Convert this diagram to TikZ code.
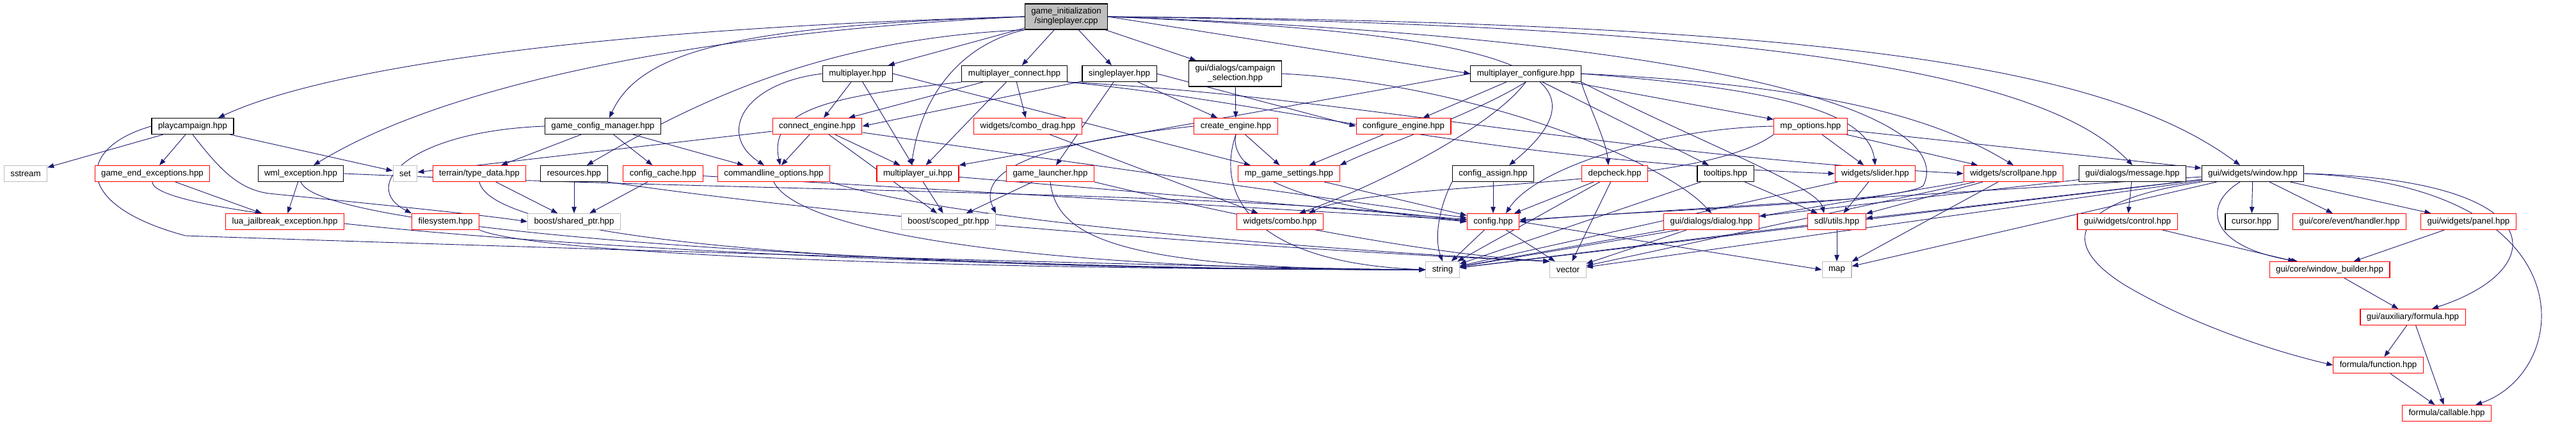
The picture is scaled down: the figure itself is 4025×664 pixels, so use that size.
\documentclass[tikz,border=0pt]{standalone}
\usepackage{fontspec}
\setmainfont{Liberation Sans}
\usetikzlibrary{arrows.meta,backgrounds}
\definecolor{edgeblue}{HTML}{191970}
\definecolor{sysgray}{HTML}{BFBFBF}
\tikzset{
  file/.style={draw=black, fill=white, line width=1.1pt, minimum height=25pt, inner xsep=10pt, inner ysep=0pt,
    font=\fontsize{13.3}{15}\selectfont, align=center},
  redfile/.style={file, draw=red},
  sysfile/.style={file, draw=sysgray},
  rootfile/.style={file, fill=sysgray, minimum height=40pt},
  dep/.style={draw=edgeblue, line width=0.9pt, -{Triangle[length=10pt,width=7.5pt]}}
}
\begin{document}
\begin{tikzpicture}[x=1pt, y=-1pt]
\useasboundingbox (0,0) rectangle (4025,664);
\node[rootfile] (root) at (1666,26) {game\_initialization\\/singleplayer.cpp};
\node[file] (mp) at (1340,115) {multiplayer.hpp};
\node[file] (mpconn) at (1585,115) {multiplayer\_connect.hpp};
\node[file] (sp) at (1749,115) {singleplayer.hpp};
\node[file, minimum height=40pt] (campsel) at (1930,115) {gui/dialogs/campaign\\\_selection.hpp};
\node[file] (mpconf) at (2384,115) {multiplayer\_configure.hpp};
\node[file] (playc) at (301,197) {playcampaign.hpp};
\node[file] (gcm) at (942,197) {game\_config\_manager.hpp};
\node[redfile] (conneng) at (1277,197) {connect\_engine.hpp};
\node[redfile] (combodrag) at (1606,197) {widgets/combo\_drag.hpp};
\node[redfile] (createng) at (1931,197) {create\_engine.hpp};
\node[redfile] (confeng) at (2193,197) {configure\_engine.hpp};
\node[redfile] (mpopt) at (2829,197) {mp\_options.hpp};
\node[sysfile] (sstream) at (40,271) {sstream};
\node[redfile] (gameend) at (238,271) {game\_end\_exceptions.hpp};
\node[file] (wml) at (470,271) {wml\_exception.hpp};
\node[sysfile] (set) at (633,271) {set};
\node[redfile] (terrain) at (749,271) {terrain/type\_data.hpp};
\node[file] (res) at (897,271) {resources.hpp};
\node[redfile] (cfgcache) at (1036,271) {config\_cache.hpp};
\node[redfile] (cmdline) at (1209,271) {commandline\_options.hpp};
\node[redfile] (mpui) at (1434,271) {multiplayer\_ui.hpp};
\node[redfile] (launcher) at (1641,271) {game\_launcher.hpp};
\node[redfile] (mpgs) at (2014,271) {mp\_game\_settings.hpp};
\node[file] (cfgassign) at (2333,271) {config\_assign.hpp};
\node[redfile] (depcheck) at (2523,271) {depcheck.hpp};
\node[file] (tooltips) at (2696,271) {tooltips.hpp};
\node[redfile] (slider) at (2930,271) {widgets/slider.hpp};
\node[redfile] (scroll) at (3146,271) {widgets/scrollpane.hpp};
\node[file] (msg) at (3332,271) {gui/dialogs/message.hpp};
\node[file] (window) at (3520,271) {gui/widgets/window.hpp};
\node[redfile] (lua) at (445,346) {lua\_jailbreak\_exception.hpp};
\node[redfile] (fs) at (696,346) {filesystem.hpp};
\node[sysfile] (shptr) at (897,346) {boost/shared\_ptr.hpp};
\node[sysfile] (scptr) at (1482,346) {boost/scoped\_ptr.hpp};
\node[redfile] (combo) at (2000,346) {widgets/combo.hpp};
\node[redfile] (cfg) at (2333,346) {config.hpp};
\node[redfile] (dialog) at (2674,346) {gui/dialogs/dialog.hpp};
\node[redfile] (sdl) at (2870,346) {sdl/utils.hpp};
\node[redfile] (control) at (3324,346) {gui/widgets/control.hpp};
\node[file] (cursor) at (3518,346) {cursor.hpp};
\node[redfile] (handler) at (3671,346) {gui/core/event/handler.hpp};
\node[redfile] (panel) at (3857,346) {gui/widgets/panel.hpp};
\node[sysfile] (str) at (2254,421) {string};
\node[sysfile] (vec) at (2450,421) {vector};
\node[sysfile] (map) at (2870,421) {map};
\node[redfile] (builder) at (3640,421) {gui/core/window\_builder.hpp};
\node[redfile] (formula) at (3770,495) {gui/auxiliary/formula.hpp};
\node[redfile] (function) at (3716,570) {formula/function.hpp};
\node[redfile] (callable) at (3823,645) {formula/callable.hpp};
\begin{pgfonlayer}{background}
\draw[dep] (root.west) .. controls (900,45) and (500,110) .. ([xshift=40]playc.north);
\draw[dep] (root.west) .. controls (1100,50) and (700,130) .. ([xshift=20]wml.north);
\draw[dep] (root.west) .. controls (1150,40) and (1000,80) .. ([xshift=10]gcm.north);
\draw[dep] (root.south west) .. controls (1300,60) and (1100,150) .. ([xshift=20]res.north);
\draw[dep] (root) -- (mp);
\draw[dep] (root.south west) .. controls (1500,70) and (1440,150) .. ([xshift=-10]mpui.north);
\draw[dep] (root) -- (mpconn);
\draw[dep] (root) -- (sp);
\draw[dep] (root) -- (campsel);
\draw[dep] (root.east) -- (mpconf.west);
\draw[dep] (root.east) .. controls (2300,50) and (2550,100) .. ([xshift=25]cfgassign.north);
\draw[dep] (root.east) .. controls (2800,40) and (3200,120) .. (msg.north);
\draw[dep] (root.east) .. controls (2900,35) and (3300,110) .. ([xshift=-20]window.north);
\draw[dep] (root.east) .. controls (2700,60) and (3060,180) .. (3005,290) .. controls (2960,320) and (2500,330) .. (cfg.east);
\draw[dep] (mp.west) .. controls (1160,130) and (1120,210) .. ([xshift=-15]cmdline.north);
\draw[dep] (mp) -- (conneng);
\draw[dep] (mp) -- (mpui);
\draw[dep] (mp.east) -- ([xshift=-60]mpgs.north);
\draw[dep] (mpconn.south west) .. controls (1300,150) and (1200,170) .. ([xshift=10]cmdline.north);
\draw[dep] (mpconn) -- (conneng);
\draw[dep] (mpconn) -- (mpui);
\draw[dep] (mpconn) -- (combodrag);
\draw[dep] (mpconn.south east) .. controls (2000,160) and (2300,250) .. (slider.west);
\draw[dep] (mpconn.south east) .. controls (2100,150) and (2500,240) .. (scroll.west);
\draw[dep] (sp) -- (conneng.east);
\draw[dep] (sp) -- (launcher);
\draw[dep] (sp) -- (createng);
\draw[dep] (sp.east) -- (confeng.west);
\draw[dep] (campsel) -- (createng);
\draw[dep] (campsel.east) .. controls (2300,130) and (2600,250) .. (dialog.north);
\draw[dep] (mpconf.west) -- (mpui.north east);
\draw[dep] (mpconf) -- (confeng);
\draw[dep] (mpconf.south) .. controls (2300,180) and (2150,230) .. (mpgs.north east);
\draw[dep] (mpconf.south) .. controls (2330,200) and (2150,290) .. ([xshift=30]combo.north);
\draw[dep] (mpconf.south east) .. controls (2480,160) and (2510,220) .. ([xshift=-10]depcheck.north);
\draw[dep] (mpconf) -- (mpopt);
\draw[dep] (mpconf) -- (tooltips);
\draw[dep] (mpconf.east) .. controls (2800,140) and (2920,180) .. (slider.north);
\draw[dep] (mpconf.east) .. controls (2900,135) and (3050,200) .. (scroll.north);
\draw[dep] (mpconf.south east) .. controls (2650,220) and (2840,290) .. ([xshift=-20]sdl.north);
\draw[dep] (playc) -- (sstream);
\draw[dep] (playc) -- (gameend);
\draw[dep] (playc) -- (set);
\draw[dep] (playc.west) .. controls (120,230) and (110,320) .. (290,368) .. controls (1000,392) and (1900,418) .. (str.west);
\draw[dep] (playc.south) .. controls (340,260) and (370,295) .. (420,302) .. controls (600,320) and (750,335) .. (shptr.west);
\draw[dep] (gcm.west) .. controls (640,205) and (560,290) .. (fs.north west);
\draw[dep] (gcm) -- (terrain);
\draw[dep] (gcm) -- (cfgcache);
\draw[dep] (gcm) -- (cmdline);
\draw[dep] (conneng) -- (set);
\draw[dep] (conneng) -- (cmdline);
\draw[dep] (conneng) -- (mpui);
\draw[dep] (conneng) -- (scptr);
\draw[dep] (conneng) -- (cfg);
\draw[dep] (combodrag) -- (combo);
\draw[dep] (createng) -- (mpgs);
\draw[dep] (createng.west) .. controls (1650,220) and (1520,260) .. (scptr.north east);
\draw[dep] (createng.south) .. controls (1900,300) and (1950,410) .. (str.west);
\draw[dep] (createng.south) .. controls (1920,260) and (2000,320) .. (cfg.west);
\draw[dep] (confeng) -- (mpgs);
\draw[dep] (mpopt.west) .. controls (2600,200) and (2400,260) .. ([xshift=20]cfg.north);
\draw[dep] (mpopt.south west) .. controls (2650,300) and (2150,280) .. ([xshift=45]combo.north);
\draw[dep] (mpopt) -- (slider);
\draw[dep] (mpopt) -- (scroll);
\draw[dep] (mpopt) -- (window);
\draw[dep] (gameend) -- (lua);
\draw[dep] (gameend.south) .. controls +(0,70) and +(-900,0) .. (str.west);
\draw[dep] (wml) -- (lua);
\draw[dep] (wml.south) .. controls +(30,80) and +(-800,0) .. (str.west);
\draw[dep] (wml.east) .. controls (1200,300) and (2000,300) .. (cfg.west);
\draw[dep] (terrain) -- (shptr);
\draw[dep] (terrain.south) .. controls +(20,90) and +(-900,0) .. (str.west);
\draw[dep] (res) -- (shptr);
\draw[dep] (res.south east) .. controls (1400,350) and (2100,395) .. (vec.north west);
\draw[dep] (cfgcache) -- (shptr);
\draw[dep] (cfgcache) -- (cfg);
\draw[dep] (cmdline.south) .. controls +(40,80) and +(-600,0) .. (str.west);
\draw[dep] (cmdline.south east) .. controls (1500,350) and (2150,395) .. (vec.north west);
\draw[dep] (mpui) -- (scptr);
\draw[dep] (mpui) -- (cfg);
\draw[dep] (launcher) -- (scptr);
\draw[dep] (launcher.south) .. controls +(10,80) and +(-500,0) .. (str.west);
\draw[dep] (launcher.south east) .. controls (1900,330) and (2200,395) .. (vec.north west);
\draw[dep] (mpgs) -- (cfg);
\draw[dep] (cfgassign) -- (cfg);
\draw[dep] (cfgassign.south west) .. controls (2250,320) and (2240,370) .. (str.north);
\draw[dep] (depcheck) -- (cfg);
\draw[dep] (depcheck) -- (str);
\draw[dep] (depcheck) -- (vec);
\draw[dep] (tooltips) -- (sdl);
\draw[dep] (tooltips) -- (str);
\draw[dep] (slider) -- (sdl);
\draw[dep] (slider) -- (str);
\draw[dep] (scroll) -- (sdl);
\draw[dep] (scroll) -- (map);
\draw[dep] (scroll) -- (str);
\draw[dep] (scroll) -- (vec);
\draw[dep] (msg) -- (dialog);
\draw[dep] (msg) -- (control);
\draw[dep] (window) -- (cursor);
\draw[dep] (window) -- (handler);
\draw[dep] (window) -- (panel);
\draw[dep] (window) -- (sdl);
\draw[dep] (window) -- (map);
\draw[dep] (window) -- (str);
\draw[dep] (window) -- (vec);
\draw[dep] (window) -- (cfg);
\draw[dep] ([xshift=-20]window.south) .. controls (3440,320) and (3450,385) .. ([xshift=-50]builder.north);
\draw[dep] (window.east) .. controls (3990,280) and (3990,420) .. ([xshift=30]formula.north);
\draw[dep] (window.east) .. controls (4050,290) and (4020,580) .. ([xshift=45]callable.north);
\draw[dep] (window.south west) .. controls (3260,310) and (3200,370) .. (3320,445) .. controls (3430,510) and (3560,550) .. (function.west);
\draw[dep] (fs.south east) .. controls +(100,40) and +(-700,0) .. (str.west);
\draw[dep] (cfg) -- (str);
\draw[dep] (cfg) -- (vec);
\draw[dep] (cfg.east) -- (map.west);
\draw[dep] (dialog) -- (str);
\draw[dep] (dialog) -- (vec);
\draw[dep] (sdl) -- (map);
\draw[dep] (sdl) -- (str);
\draw[dep] (control) -- (builder);
\draw[dep] (panel) -- (builder);
\draw[dep] (builder) -- (formula);
\draw[dep] (formula) -- (function);
\draw[dep] (formula) -- (callable);
\draw[dep] (function) -- (callable);
\end{pgfonlayer}
\end{tikzpicture}
\end{document}
